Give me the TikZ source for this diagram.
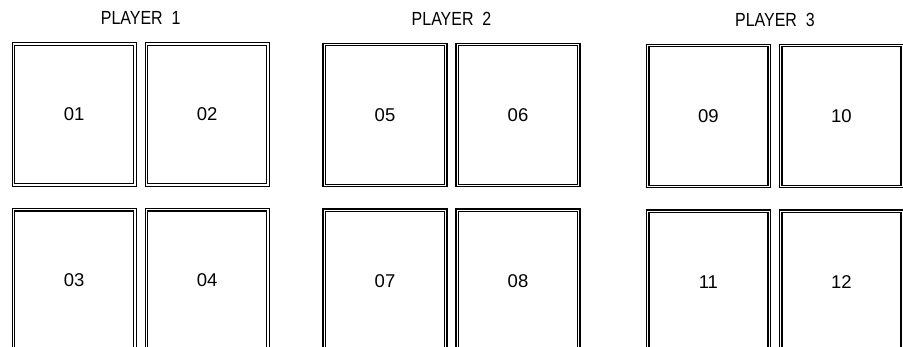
\documentclass[tikz,border=0pt]{standalone}
\usepackage{fontspec}
\setmainfont{Liberation Sans}
\newfontfamily\narrowfont[FakeStretch=0.84]{Liberation Sans}
\usetikzlibrary{positioning,calc}

\begin{document}
\begin{tikzpicture}[node distance=10.3pt,
 pad/.style={draw,double,line width=1.2pt,double distance=1.3pt,minimum width=121.5pt,minimum height=141pt,inner sep=0pt,font=\fontsize{18.5}{19}\selectfont},
 player/.style={inner sep=0pt,font=\narrowfont\fontsize{19}{20}\selectfont}]
\useasboundingbox (0,0) rectangle (903pt,-347pt);
\clip (0,0) rectangle (903pt,-347pt);
\foreach \g/\x/\y/\a/\b/\c/\d in {1/74.2/114.5/01/02/03/04,2/385/115/05/06/07/08,3/708.4/116/09/10/11/12}{
 \node[pad] (p\g a) at (\x pt,-\y pt) {\a};
 \node[pad,right=of p\g a] (p\g b) {\b};
 \node[pad,below=23.5pt of p\g a] (p\g c) {\c};
 \node[pad,below=23.5pt of p\g b] (p\g d) {\d};
 \node[player] (l\g) at ($(p\g a.north)!.5!(p\g b.north)+(0,25.3pt)$) {PLAYER\ \ \g};
}
\end{tikzpicture}
\end{document}
